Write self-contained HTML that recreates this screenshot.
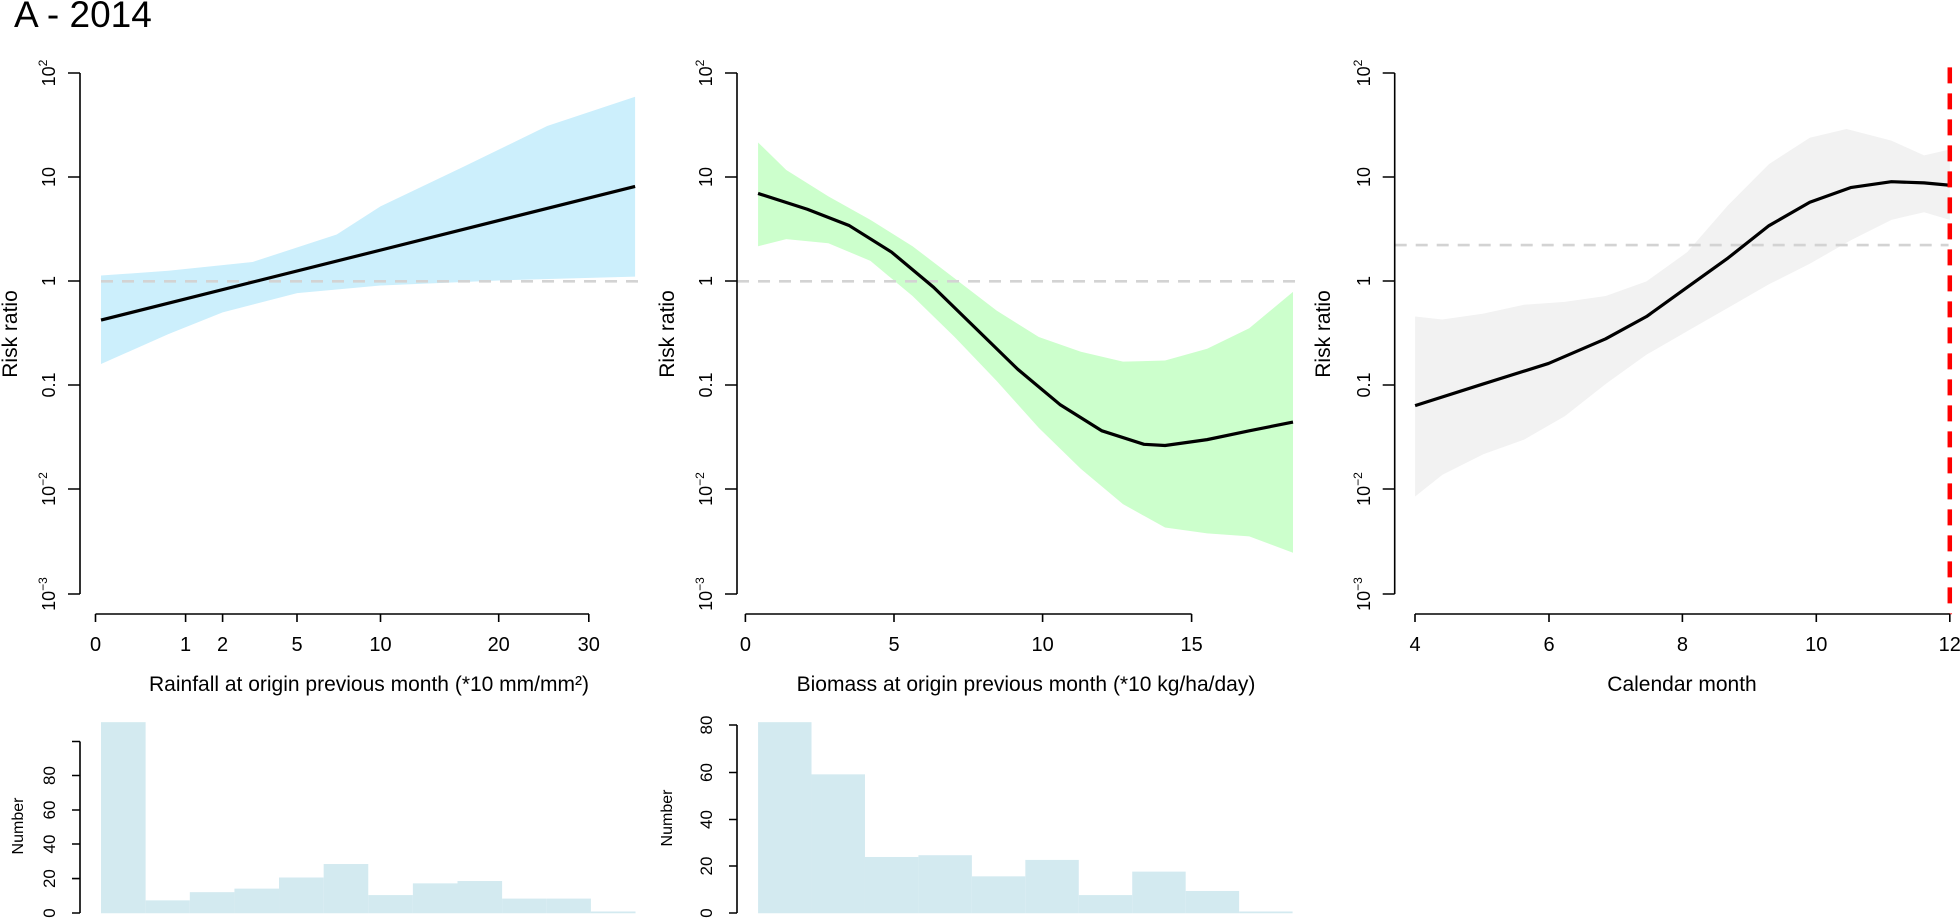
<!DOCTYPE html>
<html><head><meta charset="utf-8"><style>
html,body{margin:0;padding:0;background:#fff;}
svg{display:block;font-family:"Liberation Sans",Arial,sans-serif;}
.ax{stroke:#000;stroke-width:1.6;fill:none;}
.cv{fill:none;stroke:#000;stroke-width:3.2;vector-effect:non-scaling-stroke;stroke-linejoin:round;}
.dg{stroke:#d3d3d3;stroke-width:2.6;stroke-dasharray:12,9;fill:none;vector-effect:non-scaling-stroke;}
.tl{font-size:20px;text-anchor:middle;}
.at{font-size:21px;text-anchor:middle;}
.yl{font-size:18px;text-anchor:middle;}
.hl{font-size:17px;text-anchor:middle;}
</style></head><body>
<svg width="1960" height="919" viewBox="0 0 1960 919">
<text x="14" y="27" font-size="37">A - 2014</text>

<!-- Panel 1 -->
<g transform="translate(0,0) scale(0.42088,0.58617)">
<polygon fill="#cceffc" points="240,470 400,462 600,447 800,400 904,352 1100,285 1300,215 1509,165 1509,472 1200,478 904,487 706,500 529,533 400,570 240,621"/>
<line class="dg" x1="240" y1="480" x2="1537" y2="480"/>
<line class="cv" x1="240" y1="546" x2="1509" y2="318"/>
<rect fill="#d3eaf0" x="240" y="1232" width="106" height="326"/>
<rect fill="#d3eaf0" x="346" y="1536" width="105" height="22"/>
<rect fill="#d3eaf0" x="451" y="1522" width="106" height="36"/>
<rect fill="#d3eaf0" x="557" y="1516" width="106" height="42"/>
<rect fill="#d3eaf0" x="663" y="1497" width="106" height="61"/>
<rect fill="#d3eaf0" x="769" y="1474" width="106" height="84"/>
<rect fill="#d3eaf0" x="875" y="1527" width="106" height="31"/>
<rect fill="#d3eaf0" x="981" y="1507" width="106" height="51"/>
<rect fill="#d3eaf0" x="1087" y="1503" width="106" height="55"/>
<rect fill="#d3eaf0" x="1193" y="1533" width="106" height="25"/>
<rect fill="#d3eaf0" x="1299" y="1533" width="105" height="25"/>
<rect fill="#d3eaf0" x="1404" y="1555" width="106" height="3"/>
</g>
<g class="ax">
<path d="M80,73V594 M68,73H80 M68,177H80 M68,281H80 M68,385H80 M68,489H80 M68,594H80"/>
<path d="M95.5,614H589 M95.5,614v8 M185.6,614v8 M222.6,614v8 M297,614v8 M380.5,614v8 M498.7,614v8 M588.8,614v8"/>
<path d="M80,741.5V913 M72,913H80 M72,878.6H80 M72,844H80 M72,810H80 M72,775.5H80 M72,741.5H80"/>
</g>
<g class="tl">
<text x="95.5" y="651">0</text><text x="185.6" y="651">1</text><text x="222.6" y="651">2</text><text x="297" y="651">5</text><text x="380.5" y="651">10</text><text x="498.7" y="651">20</text><text x="588.8" y="651">30</text>
</g>
<g class="at">
<text x="369" y="691">Rainfall at origin previous month (*10 mm/mm²)</text>
<text transform="translate(17,334) rotate(-90)">Risk ratio</text>
</g>
<g class="yl">
<text transform="translate(55,73) rotate(-90)">10<tspan font-size="12" dy="-8">2</tspan></text>
<text transform="translate(55,177) rotate(-90)">10</text>
<text transform="translate(55,281) rotate(-90)">1</text>
<text transform="translate(55,385) rotate(-90)">0.1</text>
<text transform="translate(55,489) rotate(-90)">10<tspan font-size="12" dy="-8">−2</tspan></text>
<text transform="translate(55,594) rotate(-90)">10<tspan font-size="12" dy="-8">−3</tspan></text>
</g>
<g class="hl">
<text transform="translate(55,913) rotate(-90)">0</text><text transform="translate(55,878.6) rotate(-90)">20</text><text transform="translate(55,844) rotate(-90)">40</text><text transform="translate(55,810) rotate(-90)">60</text><text transform="translate(55,775.5) rotate(-90)">80</text>
<text font-size="16" transform="translate(23,826) rotate(-90)">Number</text>
</g>

<!-- Panel 2 -->
<g transform="translate(660,0) scale(0.42088,0.58617)">
<polygon fill="#ccffcc" points="233,243 300,290 400,335 500,375 600,420 700,475 800,530 900,575 1000,600 1100,617 1200,615 1300,595 1400,560 1504,498 1504,943 1400,915 1300,910 1200,900 1100,860 1000,800 900,730 800,650 700,575 600,505 500,445 400,415 300,408 233,420"/>
<line class="dg" x1="183" y1="480" x2="1530" y2="480"/>
<polyline class="cv" points="233,330 350,357 450,385 550,430 650,490 750,560 850,630 950,690 1050,735 1150,758 1200,760 1300,750 1400,735 1504,720"/>
<rect fill="#d3eaf0" x="233" y="1232" width="127" height="326"/>
<rect fill="#d3eaf0" x="360" y="1321" width="127" height="237"/>
<rect fill="#d3eaf0" x="487" y="1462" width="127" height="96"/>
<rect fill="#d3eaf0" x="614" y="1459" width="127" height="99"/>
<rect fill="#d3eaf0" x="741" y="1495" width="127" height="63"/>
<rect fill="#d3eaf0" x="868" y="1467" width="127" height="91"/>
<rect fill="#d3eaf0" x="995" y="1527" width="127" height="31"/>
<rect fill="#d3eaf0" x="1122" y="1487" width="127" height="71"/>
<rect fill="#d3eaf0" x="1249" y="1520" width="127" height="38"/>
<rect fill="#d3eaf0" x="1376" y="1555" width="127" height="3"/>
</g>
<g class="ax">
<path d="M737,73V594 M725,73H737 M725,177H737 M725,281H737 M725,385H737 M725,489H737 M725,594H737"/>
<path d="M745.4,614H1191.6 M745.4,614v8 M894,614v8 M1042.6,614v8 M1191.6,614v8"/>
<path d="M737,725V913 M729,913H737 M729,866H737 M729,819.5H737 M729,772.5H737 M729,725H737"/>
</g>
<g class="tl">
<text x="745.4" y="651">0</text><text x="894" y="651">5</text><text x="1042.6" y="651">10</text><text x="1191.6" y="651">15</text>
</g>
<g class="at">
<text x="1026" y="691">Biomass at origin previous month (*10 kg/ha/day)</text>
<text transform="translate(674,334) rotate(-90)">Risk ratio</text>
</g>
<g class="yl">
<text transform="translate(712,73) rotate(-90)">10<tspan font-size="12" dy="-8">2</tspan></text>
<text transform="translate(712,177) rotate(-90)">10</text>
<text transform="translate(712,281) rotate(-90)">1</text>
<text transform="translate(712,385) rotate(-90)">0.1</text>
<text transform="translate(712,489) rotate(-90)">10<tspan font-size="12" dy="-8">−2</tspan></text>
<text transform="translate(712,594) rotate(-90)">10<tspan font-size="12" dy="-8">−3</tspan></text>
</g>
<g class="hl">
<text transform="translate(712,913) rotate(-90)">0</text><text transform="translate(712,866) rotate(-90)">20</text><text transform="translate(712,819.5) rotate(-90)">40</text><text transform="translate(712,772.5) rotate(-90)">60</text><text transform="translate(712,725) rotate(-90)">80</text>
<text font-size="16" transform="translate(672,818) rotate(-90)">Number</text>
</g>

<!-- Panel 3 -->
<g transform="translate(1320,0) scale(0.40816,0.58617)">
<polygon fill="#f2f2f2" points="233,540 300,545 400,535 500,520 600,515 700,505 800,480 900,430 1000,350 1100,280 1200,235 1290,220 1400,240 1480,265 1543,255 1543,375 1480,362 1400,375 1300,410 1200,450 1100,485 1000,525 900,565 800,605 700,655 600,710 500,750 400,775 300,810 233,847"/>
<line class="dg" x1="183" y1="418" x2="1540" y2="418"/>
<polyline class="cv" points="233,692 400,655 560,620 700,578 800,540 900,490 1000,440 1100,385 1200,345 1300,320 1400,310 1480,312 1543,316"/>
<line x1="1543" y1="115" x2="1543" y2="1048" stroke="#ff0000" stroke-width="4.5" stroke-dasharray="16,10" vector-effect="non-scaling-stroke"/>
</g>
<g class="ax">
<path d="M1394.7,73V594 M1382.7,73H1394.7 M1382.7,177H1394.7 M1382.7,281H1394.7 M1382.7,385H1394.7 M1382.7,489H1394.7 M1382.7,594H1394.7"/>
<path d="M1415,614H1949.8 M1415,614v8 M1549,614v8 M1682.4,614v8 M1816.3,614v8 M1949.8,614v8"/>
</g>
<g class="tl">
<text x="1415" y="651">4</text><text x="1549" y="651">6</text><text x="1682.4" y="651">8</text><text x="1816.3" y="651">10</text><text x="1949.8" y="651">12</text>
</g>
<g class="at">
<text x="1682" y="691">Calendar month</text>
<text transform="translate(1330,334) rotate(-90)">Risk ratio</text>
</g>
<g class="yl">
<text transform="translate(1370,73) rotate(-90)">10<tspan font-size="12" dy="-8">2</tspan></text>
<text transform="translate(1370,177) rotate(-90)">10</text>
<text transform="translate(1370,281) rotate(-90)">1</text>
<text transform="translate(1370,385) rotate(-90)">0.1</text>
<text transform="translate(1370,489) rotate(-90)">10<tspan font-size="12" dy="-8">−2</tspan></text>
<text transform="translate(1370,594) rotate(-90)">10<tspan font-size="12" dy="-8">−3</tspan></text>
</g>
</svg>
</body></html>
